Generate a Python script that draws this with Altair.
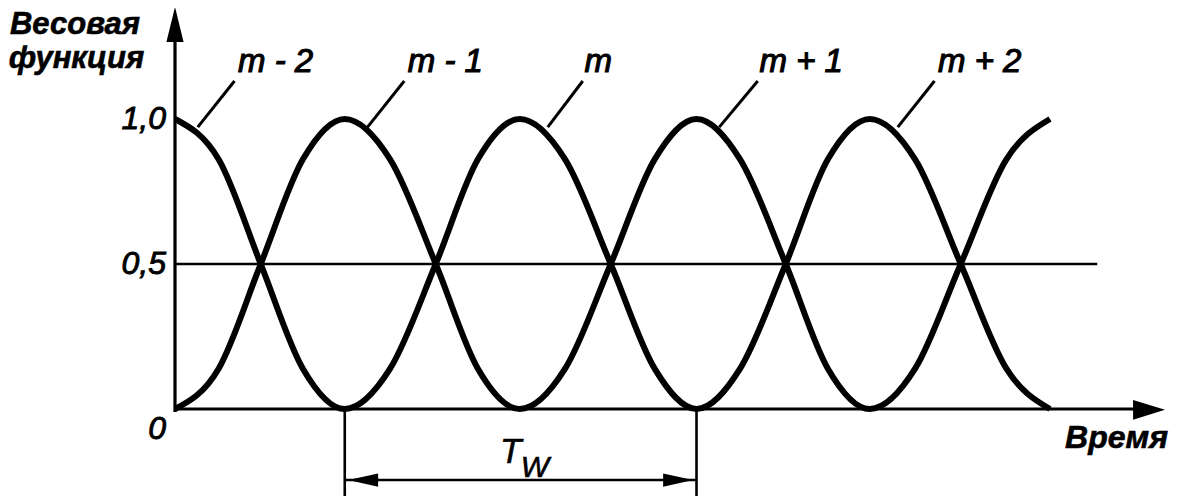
import altair as alt
import pandas as pd

# ---- data (time in half-period units, weight 0..1) ----
t_pts = [0, 0.25, 0.49, 0.73, 0.97, 1.23, 1.49, 1.73, 1.97, 2.23, 2.49,
         2.74, 2.98, 3.23, 3.49, 3.73, 3.97, 4.23, 4.49, 4.75, 5.0]
curve_a = [0, .14, .5, .86, 1, .86, .5, .14, 0, .14, .5,
           .86, 1, .86, .5, .14, 0, .14, .5, .86, 1]
curve_b = [1, .86, .5, .14, 0, .14, .5, .86, 1, .86, .5,
           .14, 0, .14, .5, .86, 1, .86, .5, .14, 0]

window_labels = ["m - 2", "m - 1", "m", "m + 1", "m + 2"]
leader_t0 = [0.13, 1.10, 2.13, 3.11, 4.13]
leader_t1 = [0.34, 1.31, 2.33, 3.33, 4.34]
label_t = [0.36, 1.33, 2.34, 3.34, 4.36]
leader_v0 = 0.972
leader_v1 = 1.131
label_v = 1.162

tick_labels = ["1,0", "0,5", "0"]
tick_v = [1.0, 0.5, -0.07]

half_line_end = 5.27      # end of the 0,5 reference line
x_axis_end = 5.5
y_axis_end = 1.28
tw_start = 0.97           # T_W bracket (valley of m-1 ... valley of m+1)
tw_end = 2.98
tw_v = -0.245

X_DOM = [-0.9543, 5.68]
Y_DOM = [-0.3, 1.3828]
FONT = "Liberation Sans"


def X(f):
    return alt.X(f, type="quantitative", scale=alt.Scale(domain=X_DOM, nice=False, zero=False), axis=None)


def Y(f):
    return alt.Y(f, type="quantitative", scale=alt.Scale(domain=Y_DOM, nice=False, zero=False), axis=None)


curves = pd.DataFrame(
    {"t": t_pts * 2, "v": curve_a + curve_b, "c": ["A"] * len(t_pts) + ["B"] * len(t_pts)}
)

curve_layer = alt.Chart(curves).mark_line(
    interpolate="monotone", color="black", strokeWidth=6, strokeCap="butt"
).encode(x=X("t"), y=Y("v"), detail="c:N", order="t:Q")

# axes and reference lines
segs = pd.DataFrame({
    "t0": [0, 0, 0, tw_start, tw_end, tw_start],
    "t1": [0, x_axis_end, half_line_end, tw_start, tw_end, tw_end],
    "v0": [-0.01, 0, 0.5, 0, 0, tw_v],
    "v1": [y_axis_end, 0, 0.5, -0.31, -0.31, tw_v],
    "w": [3.2, 3.2, 2.6, 2.6, 2.6, 2.6],
})
seg_layer = alt.Chart(segs).mark_rule(color="black").encode(
    x=X("t0"), x2="t1:Q", y=Y("v0"), y2="v1:Q",
    strokeWidth=alt.StrokeWidth("w:Q", scale=None),
)

# leader lines for the window labels
leaders = pd.DataFrame({"t0": leader_t0, "t1": leader_t1,
                        "v0": [leader_v0] * 5, "v1": [leader_v1] * 5})
leader_layer = alt.Chart(leaders).mark_rule(color="black", strokeWidth=3).encode(
    x=X("t0"), x2="t1:Q", y=Y("v0"), y2="v1:Q"
)

# arrow heads
def head(t, v, path, size):
    return alt.Chart(pd.DataFrame({"t": [t], "v": [v]})).mark_point(
        shape=path, filled=True, color="black", opacity=1, size=size, strokeWidth=0
    ).encode(x=X("t"), y=Y("v"))

heads = [
    head(0.0, 1.326, "M0,-1L0.49,1L-0.49,1Z", 1225),
    head(5.566, -0.003, "M1,0L-1,0.62L-1,-0.62Z", 1024),
    head(tw_start + 0.105, tw_v, "M-1,0L1,0.44L1,-0.44Z", 900),
    head(tw_end - 0.105, tw_v, "M1,0L-1,0.44L-1,-0.44Z", 900),
]

# texts
ticks = pd.DataFrame({"txt": tick_labels, "t": [0] * 3, "v": tick_v})
tick_layer = alt.Chart(ticks).mark_text(
    align="right", baseline="middle", dx=-9, font=FONT, fontSize=32,
    fontStyle="italic", color="black", stroke="black", strokeWidth=0.9
).encode(x=X("t"), y=Y("v"), text="txt:N")

wl = pd.DataFrame({"txt": window_labels, "t": label_t, "v": [label_v] * 5})
wl_layer = alt.Chart(wl).mark_text(
    align="left", baseline="alphabetic", font=FONT, fontSize=33,
    fontStyle="italic", color="black", stroke="black", strokeWidth=1.1
).encode(x=X("t"), y=Y("v"), text="txt:N")

titles = pd.DataFrame({
    "txt": ["Весовая", "функция", "Время"],
    "t": [-0.943, -0.95, 5.086],
    "v": [1.294, 1.176, -0.134],
    "fs": [31, 31, 32],
})
title_layer = alt.Chart(titles).mark_text(
    align="left", baseline="alphabetic", font=FONT,
    fontStyle="italic", fontWeight="bold", color="black", stroke="black", strokeWidth=0.6
).encode(x=X("t"), y=Y("v"), text="txt:N", size=alt.Size("fs:Q", scale=None))

tw = pd.DataFrame({"txt": ["T", "W"], "t": [1.857, 1.975], "v": [-0.186, -0.234], "fs": [35, 30]})
tw_layer = alt.Chart(tw).mark_text(
    align="left", baseline="alphabetic", font=FONT,
    fontStyle="italic", color="black", stroke="black", strokeWidth=0.6
).encode(x=X("t"), y=Y("v"), text="txt:N", size=alt.Size("fs:Q", scale=None))

chart = alt.layer(
    seg_layer, curve_layer, leader_layer, *heads,
    tick_layer, wl_layer, title_layer, tw_layer
).properties(
    width=1161, height=488, padding=0,
    autosize=alt.AutoSizeParams(type="none"),
    background="white",
).configure_view(stroke=None)

chart.save("out.html", embed_options={"renderer": "svg", "actions": False})
